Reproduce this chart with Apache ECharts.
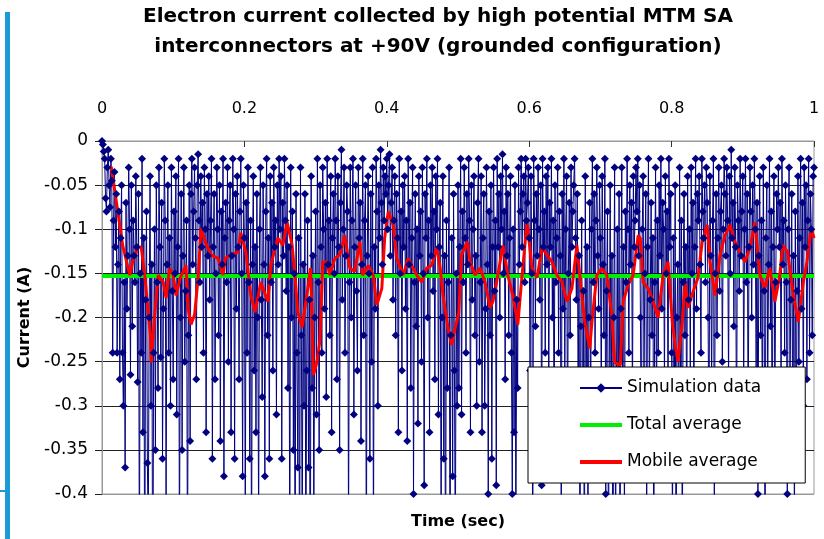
<!DOCTYPE html>
<html>
<head>
<meta charset="utf-8">
<script src="https://cdn.jsdelivr.net/npm/echarts@6/dist/echarts.min.js"></script>
<style>
  html, body { margin: 0; padding: 0; background: #fff; }
  #chart { width: 824px; height: 539px; }
</style>
</head>
<body>
<div id="chart"></div>
<script>
// x axis tick labels (top)
const timeTicks = [0, 0.2, 0.4, 0.6, 0.8, 1];
// y axis tick labels
const currentTicks = [0, -0.05, -0.1, -0.15, -0.2, -0.25, -0.3, -0.35, -0.4];

// simulation data, evenly sampled from t=0 to t=1 s (values in A), 20 samples per row
const simValues = [
    0, -0.004, -0.012, -0.02, -0.065, -0.08, -0.03, -0.01, -0.05, -0.075, -0.02, -0.045, -0.24, -0.09, -0.035, -0.12, -0.06, -0.24, -0.14, -0.08,
    -0.27, -0.11, -0.05, -0.24, -0.3, -0.16, -0.37, -0.07, -0.19, -0.13, -0.03, -0.1, -0.265, -0.05, -0.21, -0.09, -0.13, -0.16, -0.04, -0.12,
    -0.273, -0.06, -0.5, -0.15, -0.24, -0.02, -0.33, -0.11, -0.55, -0.18, -0.08, -0.365, -0.45, -0.2, -0.04, -0.3, -0.14, -0.6, -0.24, -0.1,
    -0.35, -0.05, -0.16, -0.28, -0.03, -0.12, -0.245, -0.07, -0.36, -0.19, -0.02, -0.09, -0.42, -0.14, -0.05, -0.24, -0.11, -0.3, -0.03, -0.17,
    -0.27, -0.08, -0.15, -0.04, -0.31, -0.12, -0.02, -0.48, -0.2, -0.06, -0.35, -0.13, -0.03, -0.25, -0.17, -0.09, -0.5, -0.22, -0.05, -0.34,
    -0.06, -0.02, -0.14, -0.08, -0.03, -0.11, -0.27, -0.05, -0.015, -0.09, -0.16, -0.04, -0.12, -0.07, -0.24, -0.03, -0.1, -0.33, -0.06, -0.13,
    -0.04, -0.18, -0.09, -0.02, -0.36, -0.12, -0.06, -0.27, -0.15, -0.03, -0.1, -0.22, -0.05, -0.34, -0.08, -0.14, -0.02, -0.38, -0.11, -0.07,
    -0.16, -0.03, -0.25, -0.09, -0.05, -0.33, -0.13, -0.02, -0.1, -0.36, -0.06, -0.19, -0.04, -0.12, -0.27, -0.08, -0.02, -0.15, -0.38, -0.05,
    -0.11, -0.45, -0.07, -0.24, -0.03, -0.16, -0.36, -0.09, -0.5, -0.14, -0.04, -0.26, -0.12, -0.33, -0.06, -0.2, -0.44, -0.1, -0.03, -0.18,
    -0.29, -0.05, -0.14, -0.38, -0.08, -0.02, -0.22, -0.11, -0.36, -0.04, -0.16, -0.07, -0.26, -0.03, -0.12, -0.09, -0.31, -0.05, -0.14, -0.02,
    -0.1, -0.04, -0.36, -0.07, -0.13, -0.02, -0.09, -0.17, -0.05, -0.28, -0.12, -0.48, -0.03, -0.2, -0.08, -0.35, -0.15, -0.52, -0.06, -0.24,
    -0.37, -0.11, -0.55, -0.03, -0.22, -0.46, -0.14, -0.3, -0.06, -0.5, -0.26, -0.09, -0.37, -0.18, -0.6, -0.04, -0.28, -0.13, -0.44, -0.2,
    -0.08, -0.31, -0.02, -0.16, -0.35, -0.05, -0.12, -0.24, -0.03, -0.1, -0.19, -0.07, -0.29, -0.02, -0.14, -0.09, -0.22, -0.04, -0.33, -0.11,
    -0.06, -0.15, -0.02, -0.09, -0.27, -0.04, -0.12, -0.35, -0.07, -0.01, -0.18, -0.1, -0.03, -0.24, -0.13, -0.05, -0.08, -0.45, -0.16, -0.03,
    -0.2, -0.09, -0.02, -0.31, -0.12, -0.05, -0.17, -0.26, -0.03, -0.11, -0.07, -0.34, -0.14, -0.02, -0.22, -0.09, -0.05, -0.5, -0.13, -0.04,
    -0.15, -0.36, -0.06, -0.25, -0.03, -0.47, -0.12, -0.19, -0.02, -0.08, -0.3, -0.05, -0.11, -0.01, -0.07, -0.14, -0.03, -0.09, -0.04, -0.06,
    -0.02, -0.1, -0.05, -0.015, -0.13, -0.07, -0.03, -0.18, -0.09, -0.04, -0.22, -0.06, -0.11, -0.33, -0.02, -0.15, -0.08, -0.26, -0.05, -0.12,
    -0.04, -0.19, -0.09, -0.34, -0.02, -0.14, -0.07, -0.28, -0.11, -0.03, -0.4, -0.16, -0.06, -0.21, -0.1, -0.32, -0.04, -0.13, -0.08, -0.25,
    -0.03, -0.15, -0.39, -0.06, -0.11, -0.02, -0.2, -0.09, -0.33, -0.05, -0.13, -0.03, -0.17, -0.08, -0.27, -0.04, -0.1, -0.02, -0.31, -0.12,
    -0.07, -0.45, -0.2, -0.04, -0.36, -0.13, -0.55, -0.09, -0.28, -0.16, -0.03, -0.5, -0.22, -0.11, -0.38, -0.06, -0.26, -0.48, -0.15, -0.3,
    -0.05, -0.28, -0.12, -0.02, -0.31, -0.08, -0.16, -0.03, -0.11, -0.24, -0.06, -0.14, -0.02, -0.09, -0.33, -0.05, -0.18, -0.1, -0.04, -0.22,
    -0.13, -0.3, -0.07, -0.02, -0.25, -0.16, -0.04, -0.33, -0.11, -0.06, -0.3, -0.19, -0.03, -0.14, -0.4, -0.08, -0.22, -0.05, -0.36, -0.12,
    -0.03, -0.17, -0.09, -0.39, -0.02, -0.12, -0.06, -0.2, -0.04, -0.1, -0.015, -0.15, -0.08, -0.27, -0.03, -0.13, -0.06, -0.22, -0.11, -0.04,
    -0.24, -0.4, -0.1, -0.33, -0.05, -0.47, -0.18, -0.28, -0.03, -0.14, -0.08, -0.02, -0.12, -0.06, -0.04, -0.16, -0.02, -0.09, -0.07, -0.03,
    -0.11, -0.26, -0.04, -0.15, -0.5, -0.02, -0.09, -0.21, -0.06, -0.13, -0.03, -0.1, -0.18, -0.05, -0.39, -0.02, -0.12, -0.08, -0.24, -0.04,
    -0.14, -0.03, -0.29, -0.07, -0.12, -0.02, -0.2, -0.09, -0.36, -0.05, -0.16, -0.11, -0.03, -0.24, -0.08, -0.13, -0.44, -0.06, -0.19, -0.02,
    -0.26, -0.1, -0.04, -0.35, -0.15, -0.07, -0.22, -0.03, -0.12, -0.08, -0.05, -0.02, -0.11, -0.18, -0.06, -0.3, -0.13, -0.5, -0.21, -0.09,
    -0.38, -0.17, -0.55, -0.04, -0.28, -0.12, -0.45, -0.2, -0.07, -0.33, -0.1, -0.02, -0.16, -0.06, -0.24, -0.09, -0.03, -0.13, -0.19, -0.05,
    -0.11, -0.3, -0.04, -0.14, -0.22, -0.02, -0.4, -0.17, -0.08, -0.5, -0.26, -0.05, -0.35, -0.13, -0.6, -0.2, -0.03, -0.46, -0.28, -0.1,
    -0.38, -0.06, -0.52, -0.19, -0.03, -0.27, -0.12, -0.44, -0.08, -0.16, -0.02, -0.1, -0.24, -0.05, -0.14, -0.07, -0.31, -0.04, -0.12, -0.09,
    -0.03, -0.08, -0.02, -0.13, -0.05, -0.2, -0.37, -0.1, -0.04, -0.26, -0.15, -0.06, -0.45, -0.12, -0.02, -0.3, -0.18, -0.07, -0.22, -0.11,
    -0.5, -0.16, -0.03, -0.34, -0.09, -0.24, -0.05, -0.13, -0.02, -0.19, -0.07, -0.1, -0.28, -0.04, -0.15, -0.08, -0.3, -0.02, -0.12, -0.06,
    -0.24, -0.45, -0.11, -0.33, -0.05, -0.55, -0.2, -0.14, -0.38, -0.03, -0.27, -0.09, -0.5, -0.16, -0.06, -0.22, -0.12, -0.35, -0.04, -0.18,
    -0.1, -0.26, -0.03, -0.15, -0.07, -0.32, -0.12, -0.02, -0.19, -0.06, -0.09, -0.04, -0.14, -0.24, -0.02, -0.08, -0.11, -0.05, -0.16, -0.03,
    -0.07, -0.2, -0.36, -0.04, -0.13, -0.28, -0.09, -0.02, -0.42, -0.15, -0.06, -0.22, -0.11, -0.03, -0.17, -0.08, -0.05, -0.25, -0.1, -0.02,
    -0.06, -0.13, -0.03, -0.09, -0.28, -0.04, -0.15, -0.01, -0.11, -0.07, -0.21, -0.03, -0.12, -0.36, -0.05, -0.09, -0.17, -0.02, -0.13, -0.08,
    -0.04, -0.27, -0.1, -0.02, -0.16, -0.06, -0.33, -0.12, -0.03, -0.08, -0.2, -0.05, -0.14, -0.02, -0.1, -0.26, -0.07, -0.4, -0.13, -0.04,
    -0.22, -0.09, -0.34, -0.03, -0.17, -0.5, -0.11, -0.05, -0.27, -0.14, -0.02, -0.21, -0.08, -0.38, -0.12, -0.04, -0.3, -0.16, -0.06, -0.1,
    -0.03, -0.12, -0.07, -0.28, -0.02, -0.14, -0.09, -0.24, -0.05, -0.16, -0.4, -0.1, -0.03, -0.27, -0.18, -0.06, -0.33, -0.13, -0.45, -0.08,
    -0.36, -0.17, -0.04, -0.25, -0.11, -0.02, -0.19, -0.07, -0.3, -0.03, -0.12, -0.05, -0.27, -0.09, -0.02, -0.24, -0.06, -0.1, -0.22, -0.04,
    -0.03
];

// overall mean of the simulation
const totalAverage = -0.153;

// mobile (running) average
const mobileTime = [
    0.013, 0.029, 0.039, 0.043, 0.05, 0.055, 0.06, 0.068, 0.069, 0.074, 0.079, 0.086, 0.09, 0.095, 0.1, 0.104, 0.11, 0.118, 0.121, 0.125,
    0.13, 0.135, 0.139, 0.145, 0.153, 0.163, 0.17, 0.173, 0.181, 0.191, 0.195, 0.202, 0.209, 0.215, 0.223, 0.233, 0.237, 0.247, 0.254, 0.26,
    0.267, 0.271, 0.275, 0.281, 0.285, 0.289, 0.293, 0.297, 0.302, 0.306, 0.31, 0.316, 0.32, 0.327, 0.334, 0.341, 0.348, 0.355, 0.362, 0.366,
    0.374, 0.381, 0.386, 0.393, 0.397, 0.402, 0.409, 0.414, 0.423, 0.43, 0.437, 0.442, 0.449, 0.456, 0.463, 0.47, 0.475, 0.479, 0.486, 0.491,
    0.496, 0.501, 0.505, 0.513, 0.517, 0.524, 0.531, 0.538, 0.545, 0.549, 0.556, 0.563, 0.57, 0.577, 0.584, 0.59, 0.597, 0.604, 0.611, 0.618,
    0.625, 0.632, 0.639, 0.646, 0.653, 0.66, 0.667, 0.671, 0.678, 0.685, 0.689, 0.695, 0.702, 0.709, 0.716, 0.72, 0.728, 0.732, 0.739, 0.746,
    0.753, 0.756, 0.76, 0.767, 0.774, 0.781, 0.788, 0.795, 0.801, 0.805, 0.809, 0.815, 0.819, 0.823, 0.83, 0.837, 0.843, 0.85, 0.854, 0.861,
    0.868, 0.875, 0.882, 0.889, 0.896, 0.903, 0.91, 0.917, 0.924, 0.931, 0.938, 0.945, 0.952, 0.956, 0.963, 0.971, 0.978, 0.985, 0.99, 0.996,
    1.0
];
const mobileValues = [
    -0.029, -0.118, -0.152, -0.137, -0.121, -0.12, -0.152, -0.22, -0.251, -0.197, -0.152, -0.16, -0.178, -0.144, -0.152, -0.175, -0.155, -0.141, -0.19, -0.208,
    -0.197, -0.155, -0.099, -0.114, -0.129, -0.133, -0.152, -0.133, -0.129, -0.126, -0.104, -0.126, -0.175, -0.194, -0.16, -0.182, -0.141, -0.11, -0.118, -0.092,
    -0.118, -0.152, -0.194, -0.211, -0.189, -0.167, -0.144, -0.265, -0.25, -0.227, -0.137, -0.137, -0.152, -0.133, -0.129, -0.107, -0.144, -0.148, -0.114, -0.152,
    -0.141, -0.152, -0.186, -0.167, -0.11, -0.08, -0.095, -0.133, -0.152, -0.133, -0.144, -0.152, -0.16, -0.144, -0.141, -0.121, -0.144, -0.175, -0.212, -0.231,
    -0.212, -0.195, -0.129, -0.114, -0.137, -0.152, -0.144, -0.16, -0.189, -0.182, -0.152, -0.118, -0.152, -0.175, -0.208, -0.152, -0.092, -0.144, -0.155, -0.121,
    -0.129, -0.137, -0.152, -0.16, -0.182, -0.167, -0.118, -0.152, -0.205, -0.235, -0.197, -0.152, -0.144, -0.152, -0.197, -0.251, -0.254, -0.182, -0.163, -0.152,
    -0.107, -0.11, -0.16, -0.167, -0.182, -0.2, -0.152, -0.137, -0.205, -0.231, -0.25, -0.205, -0.16, -0.189, -0.171, -0.155, -0.114, -0.095, -0.137, -0.175,
    -0.129, -0.107, -0.095, -0.114, -0.126, -0.137, -0.121, -0.092, -0.152, -0.167, -0.144, -0.182, -0.152, -0.118, -0.126, -0.175, -0.205, -0.16, -0.137, -0.099,
    -0.11
];

const simData = simValues.map((v, i) => [i / (simValues.length - 1), v]);
const mobileData = mobileTime.map((t, i) => [t, mobileValues[i]]);
const totalData = [[timeTicks[0], totalAverage], [timeTicks[timeTicks.length - 1], totalAverage]];

const myChart = echarts.init(document.getElementById('chart'));
myChart.setOption({
    animation: false,
    backgroundColor: '#fff',
    title: {
        text: 'Electron current collected by high potential MTM SA\ninterconnectors at +90V (grounded configuration)',
        left: 438,
        top: 2,
        padding: 0,
        textAlign: 'center',
        textStyle: {
            fontFamily: 'DejaVu Sans',
            fontWeight: 'bold',
            fontSize: 20,
            lineHeight: 30,
            color: '#000'
        }
    },
    grid: {
        left: 102,
        right: 10,
        top: 141,
        bottom: 45,
        show: true,
        borderColor: '#999',
        borderWidth: 1
    },
    legend: {
        orient: 'vertical',
        left: 528,
        top: 367,
        padding: [11, 44, 11, 50],
        itemWidth: 42,
        itemHeight: 12,
        itemGap: 17,
        backgroundColor: '#fff',
        borderColor: '#000',
        borderWidth: 1,
        borderRadius: 0,
        textStyle: {
            fontFamily: 'DejaVu Sans',
            fontSize: 17,
            lineHeight: 20,
            color: '#000'
        },
        data: [
            { name: 'Simulation data' },
            { name: 'Total average', itemStyle: { opacity: 0 }, lineStyle: { width: 4 } },
            { name: 'Mobile average', itemStyle: { opacity: 0 }, lineStyle: { width: 4 } }
        ]
    },
    xAxis: {
        type: 'value',
        position: 'top',
        min: 0,
        max: 1,
        interval: 0.2,
        axisLine: { show: true, lineStyle: { color: '#999' } },
        axisTick: { show: true, inside: true, length: 6, lineStyle: { color: '#333' } },
        axisLabel: {
            margin: 24,
            fontFamily: 'DejaVu Sans',
            fontSize: 16,
            color: '#000'
        },
        splitLine: { show: false }
    },
    yAxis: {
        type: 'value',
        min: -0.4,
        max: 0,
        interval: 0.05,
        name: 'Current (A)',
        nameLocation: 'middle',
        nameRotate: 90,
        nameGap: 66,
        nameTextStyle: {
            fontFamily: 'DejaVu Sans',
            fontWeight: 'bold',
            fontSize: 16,
            color: '#000'
        },
        axisLine: { show: true, lineStyle: { color: '#999' } },
        axisTick: { show: true, length: 7, lineStyle: { color: '#222' } },
        axisLabel: {
            margin: 14,
            fontFamily: 'DejaVu Sans',
            fontSize: 17,
            color: '#000'
        },
        splitLine: {
            show: true,
            lineStyle: {
                color: ['#999', '#222', '#222', '#222', '#222', '#222', '#222', '#222', '#999'],
                width: 1
            }
        }
    },
    graphic: [
        { type: 'rect', shape: { x: 5, y: 12, width: 5, height: 527 }, style: { fill: '#1b9ad6' } },
        { type: 'rect', shape: { x: 0, y: 490, width: 8, height: 2 }, style: { fill: '#1b9ad6' } },
        {
            type: 'text',
            x: 458,
            y: 522,
            style: {
                text: 'Time (sec)',
                fontFamily: 'DejaVu Sans',
                fontWeight: 'bold',
                fontSize: 16,
                fill: '#000',
                align: 'center',
                verticalAlign: 'middle'
            }
        }
    ],
    series: [
        {
            name: 'Simulation data',
            type: 'line',
            data: simData,
            symbol: 'diamond',
            symbolSize: 8,
            showSymbol: true,
            showAllSymbol: true,
            clip: true,
            itemStyle: { color: '#000080' },
            lineStyle: { color: '#000080', width: 1 }
        },
        {
            name: 'Total average',
            type: 'line',
            data: totalData,
            symbol: 'none',
            itemStyle: { color: '#00ee00' },
            lineStyle: { color: '#00ee00', width: 4 }
        },
        {
            name: 'Mobile average',
            type: 'line',
            data: mobileData,
            symbol: 'none',
            itemStyle: { color: '#ff0000' },
            lineStyle: { color: '#ff0000', width: 3 }
        }
    ]
});
</script>
</body>
</html>
